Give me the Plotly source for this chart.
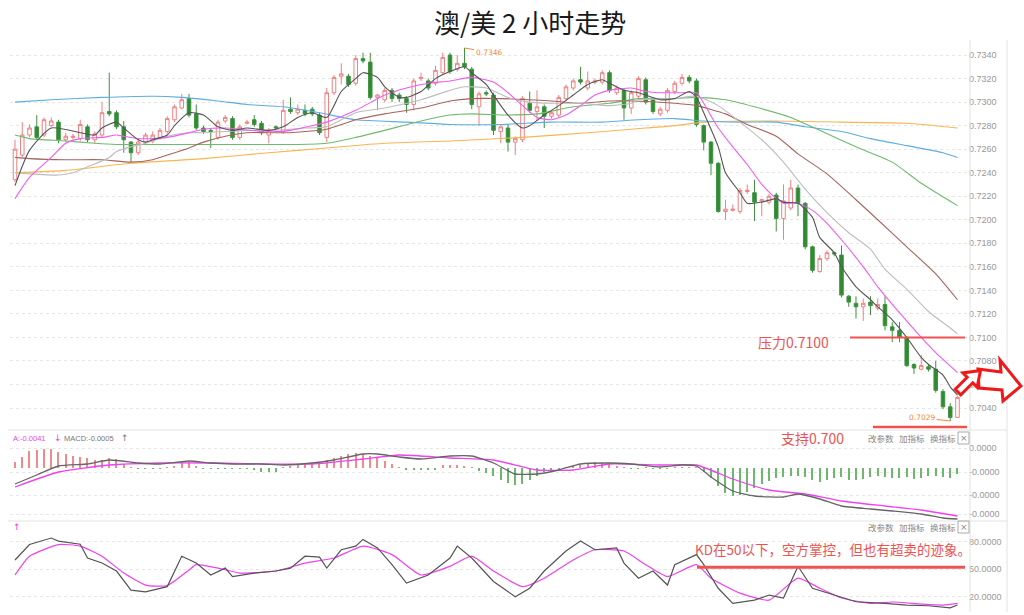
import plotly.graph_objects as go

# ---------------- data (AUD/USD, 2-hour candles) ----------------
opens = [.7234,.7255,.7272,.7279,.7272,.7280,.7283,.7268,.7270,.7269,
 .7279,.7268,.7272,.7292,.7291,.7279,.7266,.7257,.7266,.7267,
 .7270,.7275,.7285,.7295,.7303,.7290,.7278,.7276,.7270,.7284,
 .7286,.7270,.7282,.7285,.7282,.7272,.7279,.7275,.7294,.7291,
 .7293,.7294,.7289,.7270,.7308,.7322,.7322,.7316,.7337,.7334,
 .7304,.7302,.7310,.7306,.7303,.7298,.7320,.7318,.7316,.7325,
 .7340,.7328,.7333,.7328,.7296,.7308,.7306,.7275,.7278,.7266,
 .7268,.7299,.7292,.7296,.7288,.7289,.7303,.7312,.7319,.7312,
 .7317,.7317,.7325,.7308,.7310,.7295,.7305,.7319,.7302,.7290,
 .7293,.7309,.7316,.7321,.7318,.7280,.7266,.7248,.7207,.7208,
 .7207,.7224,.7223,.7216,.7215,.7221,.7201,.7210,.7227,.7214,
 .7177,.7156,.7167,.7172,.7170,.7135,.7129,.7126,.7130,.7125,
 .7128,.7109,.7106,.7100,.7077,.7073,.7075,.7073,.7054,.7041,
 .7032]
closes = [.7260,.7272,.7278,.7270,.7285,.7284,.7268,.7271,.7271,.7281,
 .7268,.7273,.7291,.7290,.7279,.7268,.7257,.7266,.7272,.7272,
 .7276,.7286,.7296,.7302,.7289,.7278,.7275,.7275,.7283,.7287,
 .7270,.7279,.7283,.7281,.7274,.7276,.7278,.7293,.7292,.7294,
 .7290,.7290,.7274,.7308,.7321,.7324,.7315,.7337,.7335,.7304,
 .7306,.7310,.7303,.7303,.7298,.7318,.7321,.7312,.7327,.7338,
 .7326,.7333,.7330,.7298,.7307,.7307,.7276,.7279,.7266,.7269,
 .7303,.7293,.7296,.7288,.7291,.7304,.7313,.7318,.7317,.7318,
 .7318,.7325,.7310,.7312,.7295,.7308,.7320,.7300,.7292,.7294,
 .7310,.7316,.7321,.7318,.7281,.7266,.7248,.7207,.7209,.7209,
 .7225,.7225,.7215,.7217,.7220,.7201,.7216,.7227,.7214,.7177,
 .7157,.7167,.7172,.7171,.7136,.7130,.7126,.7129,.7127,.7128,
 .7110,.7106,.7100,.7076,.7074,.7076,.7073,.7055,.7041,.7032,
 .7049]
highs = [.7268,.7283,.7281,.7289,.7287,.7287,.7285,.7274,.7273,.7285,
 .7281,.7275,.7300,.7325,.7293,.7284,.7267,.7268,.7274,.7275,
 .7278,.7288,.7298,.7307,.7307,.7298,.7280,.7278,.7285,.7289,
 .7288,.7281,.7285,.7289,.7284,.7278,.7280,.7302,.7304,.7298,
 .7298,.7296,.7291,.7312,.7323,.7333,.7324,.7340,.7342,.7342,
 .7307,.7312,.7312,.7308,.7305,.7320,.7325,.7320,.7331,.7342,
 .7342,.7340,.7346,.7330,.7309,.7310,.7308,.7281,.7281,.7271,
 .7305,.7309,.7310,.7298,.7293,.7306,.7315,.7320,.7330,.7326,
 .7320,.7327,.7327,.7314,.7312,.7310,.7322,.7321,.7304,.7296,
 .7312,.7318,.7324,.7323,.7320,.7281,.7267,.7249,.7217,.7213,
 .7227,.7230,.7234,.7218,.7222,.7223,.7230,.7234,.7230,.7215,
 .7178,.7170,.7174,.7173,.7178,.7136,.7135,.7133,.7135,.7133,
 .7135,.7113,.7113,.7101,.7078,.7085,.7077,.7080,.7056,.7044,
 .7050]
lows = [.7232,.7253,.7270,.7268,.7270,.7279,.7265,.7266,.7268,.7267,
 .7266,.7265,.7270,.7288,.7277,.7257,.7249,.7255,.7264,.7265,
 .7268,.7273,.7283,.7294,.7287,.7276,.7273,.7261,.7268,.7282,
 .7268,.7268,.7281,.7279,.7272,.7265,.7276,.7273,.7290,.7289,
 .7288,.7288,.7272,.7266,.7306,.7315,.7313,.7314,.7333,.7302,
 .7293,.7300,.7300,.7300,.7291,.7293,.7318,.7310,.7314,.7323,
 .7324,.7326,.7328,.7294,.7280,.7305,.7272,.7265,.7258,.7255,
 .7266,.7291,.7284,.7278,.7286,.7287,.7301,.7310,.7315,.7310,
 .7315,.7315,.7308,.7306,.7285,.7290,.7303,.7298,.7290,.7288,
 .7291,.7307,.7314,.7316,.7279,.7259,.7238,.7206,.7200,.7207,
 .7205,.7222,.7199,.7203,.7213,.7190,.7183,.7208,.7203,.7175,
 .7155,.7155,.7165,.7169,.7134,.7126,.7116,.7114,.7119,.7123,
 .7106,.7096,.7096,.7075,.7069,.7072,.7071,.7053,.7039,.7029,
 .7032]

# moving averages read at sample candles (candle index, price)
ma5_i = [0,2,5,9,11,12,14,15,17,18,19,21,22,24,26,28,30,32,35,37,39,41,43,45,47,48,50,51,53,54,56,58,60,62,63,65,66,68,70,71,73,75,77,79,81,82,84,86,89,91,93,94,95,97,98,100,101,103,105,106,108,110,111,113,114,116,118,119,121,123,125,126,128,129,130]
ma5_v = [.7229,.7259,.7278,.7274,.7272,.7278,.7283,.7278,.7268,.7266,.7268,.7272,.7280,.7291,.7289,.7279,.7276,.7278,.7276,.7279,.7287,.7291,.7287,.7309,.7320,.7325,.7321,.7313,.7304,.7304,.7309,.7320,.7326,.7330,.7325,.7315,.7306,.7289,.7278,.7280,.7289,.7297,.7306,.7315,.7319,.7316,.7310,.7308,.7302,.7303,.7309,.7304,.7291,.7262,.7240,.7223,.7214,.7215,.7218,.7215,.7214,.7202,.7185,.7172,.7160,.7143,.7132,.7126,.7115,.7100,.7083,.7077,.7068,.7058,.7051]
ma10_i = [0,2,5,7,9,12,14,15,17,19,21,24,26,29,31,34,36,38,41,43,47,51,54,57,60,63,66,68,70,72,74,76,78,80,82,85,87,89,92,94,95,97,99,101,103,105,106,108,110,112,114,117,119,122,125,127,130]
ma10_v = [.7218,.7236,.7253,.7265,.7269,.7270,.7272,.7271,.7269,.7269,.7270,.7274,.7277,.7278,.7277,.7275,.7275,.7276,.7280,.7283,.7293,.7306,.7312,.7316,.7318,.7321,.7317,.7308,.7297,.7287,.7285,.7289,.7297,.7306,.7310,.7312,.7309,.7308,.7308,.7308,.7299,.7278,.7262,.7247,.7230,.7218,.7214,.7214,.7208,.7197,.7183,.7160,.7143,.7121,.7100,.7087,.7070]
ma20_i = [0,2,6,8,10,13,14,16,18,21,24,26,29,32,35,38,40,43,47,51,56,60,62,65,68,71,74,78,82,85,86,91,94,97,100,103,106,109,112,115,118,120,123,126,129,130]
ma20_v = [.7240,.7239,.7238,.7240,.7245,.7253,.7258,.7262,.7265,.7271,.7274,.7274,.7275,.7276,.7276,.7277,.7278,.7279,.7291,.7295,.7302,.7310,.7313,.7312,.7304,.7300,.7299,.7299,.7297,.7299,.7302,.7303,.7305,.7297,.7283,.7268,.7249,.7226,.7206,.7189,.7175,.7158,.7141,.7122,.7108,.7103]
ma30_i = [0,2,7,12,16,19,21,24,26,29,32,35,38,40,43,47,51,56,60,63,67,71,74,78,82,85,91,94,98,101,105,108,112,116,119,123,127,130]
ma30_v = [.7253,.7252,.7251,.7251,.7249,.7251,.7255,.7261,.7266,.7271,.7274,.7274,.7274,.7275,.7277,.7285,.7290,.7295,.7301,.7303,.7303,.7302,.7301,.7299,.7301,.7301,.7299,.7297,.7290,.7281,.7271,.7256,.7239,.7217,.7200,.7177,.7154,.7132]
ma60_i = [0,2,7,11,14,18,22,26,30,35,39,43,47,51,56,60,63,68,72,77,82,86,91,94,98,102,107,111,116,121,125,130]
ma60_v = [.7272,.7269,.7267,.7265,.7264,.7264,.7264,.7264,.7264,.7264,.7264,.7265,.7270,.7276,.7284,.7289,.7290,.7289,.7290,.7296,.7299,.7303,.7303,.7304,.7302,.7296,.7287,.7276,.7262,.7249,.7231,.7212]
ma120_i = [0,5,12,19,23,28,32,37,42,47,54,60,67,74,81,86,91,95,100,105,109,114,118,123,128,130]
ma120_v = [.7300,.7302,.7304,.7305,.7304,.7301,.7298,.7296,.7291,.7285,.7283,.7281,.7281,.7283,.7283,.7285,.7286,.7284,.7283,.7283,.7279,.7275,.7269,.7263,.7257,.7253]
ma250_i = [0,7,16,26,35,43,51,60,70,79,87,91,95,105,114,123,130]
ma250_v = [.7240,.7242,.7248,.7252,.7257,.7261,.7265,.7267,.7270,.7274,.7278,.7280,.7283,.7284,.7283,.7282,.7278]

# MACD (values in units of 0.0001)
macd_hist = [4.8,8.8,13.6,14.4,15.2,15.2,12.8,11.2,9.6,8.8,
 8,6.4,6.4,8,7.2,3.2,0.8,-0.8,-0.8,-0.8,
 -0.8,0.8,1.6,4,4.8,1.6,-0.8,-0.8,-0.8,-0.8,
 -0.8,-0.8,-0.8,-1.6,-3.2,-3.2,-3.2,0.8,1.6,2.4,
 3.2,4,4.8,6.4,8,9.6,11.2,12,11.2,9.6,
 8,5.6,3.2,0.8,-1.6,-1.6,-1.6,-1.6,-1.6,2.4,
 2.4,2.4,1.6,0.8,-2.4,-4,-6.4,-9.6,-12,-13.6,
 -12.8,-9.6,-6.4,-3.2,-1.6,-0.8,0.8,1.6,2.4,4,
 4.8,4,3.2,1.6,0.8,-0.8,-0.8,0.8,-0.8,-0.8,
 -0.8,0.8,0.8,0.8,0.8,-3.2,-8,-14.4,-20,-22.4,
 -21.6,-19.2,-16,-12.8,-10.4,-8,-7.2,-6.4,-6.4,-7.2,
 -9.6,-11.2,-9.6,-8,-7.2,-9.6,-9.6,-8.8,-7.2,-6.4,
 -7.2,-8,-8,-7.2,-8.8,-8,-6.4,-6.4,-7.2,-8,
 -4.8]
dif_i = [0,3,6,10,13,17,20,24,27,30,34,37,41,44,48,50,53,56,60,63,66,69,72,75,78,82,85,89,92,94,96,99,102,106,108,111,114,118,121,125,128,130]
dif_v = [-12.8,-5.6,1.6,3.2,6.4,4,3.2,5.6,4,3.2,3.2,2.4,4,6.4,11.2,11.2,8.8,7.2,9.6,9.6,4,-4.8,-4.8,-1.6,3.2,4,3.2,0.8,2.4,1.6,-7.2,-18.4,-22.4,-23.2,-20.8,-24.8,-30.4,-32.8,-34.4,-36.8,-40,-40.8]
dea_i = [0,6,13,20,27,34,41,48,53,60,66,72,77,82,89,94,99,104,109,114,120,125,130]
dea_v = [-15.2,-3.2,2.4,4,4,3.2,3.2,7.2,10.4,8,6.4,-1.6,-1.6,3.2,2.4,2.4,-8.8,-17.6,-20.8,-26.4,-30.4,-33.6,-38.4]
macd_tick_vals = [16, -3.2, -21.6, -36.8]
macd_tick_text = ["0.0000", "-0.0000", "-0.0000", "-0.0000"]

# KD
k_i = [0,2,5,6,9,10,12,14,16,18,21,23,25,27,29,30,33,36,38,40,42,43,45,47,48,50,52,54,57,60,61,63,66,69,71,73,76,78,80,83,84,86,88,90,91,94,95,97,99,102,104,106,108,110,113,116,120,123,126,129,130]
k_v = [59.8,76.7,83.8,80.5,77,62,56.5,47.8,27,25,30.8,64,56.5,43.5,51,41.8,45.6,47.8,51,64,63,51,71,75,82.3,73,54.7,34.7,43.5,62,75,62,36.4,19.8,29,47.8,69.6,80.5,71,73,56.5,40,47.8,32.5,54.7,65.7,54.7,29,12.5,16,21.6,18.4,53,29,21.6,14.3,12.5,10.7,9.9,7.7,10.7]
d_i = [0,2,6,9,12,15,18,21,24,25,28,31,36,40,44,48,52,56,60,63,66,70,73,77,80,84,87,90,94,96,100,104,108,111,114,118,121,125,128,130]
d_v = [43.5,64,76.7,75,64,45.6,32.5,31.9,49,54.7,51,45.6,47.8,56.5,62,75,65.7,43.5,53,64,47.8,30.8,40,59.8,71,69.6,54.7,41.8,54.7,40,23.7,16,40,29,18.4,12.5,14,11.8,10.7,12.5]
kd_tick_vals = [80, 50, 20]
kd_tick_text = ["80.0000", "50.0000", "20.0000"]

price_ticks = [round(0.7040 + 0.0020 * k, 4) for k in range(16)]
price_tick_text = ["%.4f" % v for v in price_ticks]

title_text = "澳/美 2 小时走势"
resist_text = "压力0.7100"
support_text = "支持0.700"
kd_text = "KD在50以下，空方掌控，但也有超卖的迹象。"
high_label = "0.7346"
low_label = "0.7029"

# ---------------- figure ----------------
W, H = 1024, 615
def px(x):
    return x / W
def py(y):
    return 1 - y / H

RED = "#EF5350"
CJK = "Noto Sans CJK SC"
idx = list(range(len(opens)))

fig = go.Figure()
fig.add_trace(go.Candlestick(
    x=idx, open=opens, high=highs, low=lows, close=closes,
    xaxis="x", yaxis="y", whiskerwidth=0,
    increasing=dict(line=dict(color="#F08080", width=1), fillcolor="#FFFFFF"),
    decreasing=dict(line=dict(color="#3F9240", width=1), fillcolor="#2E8B30"),
    showlegend=False, hoverinfo="skip"))

ma_specs = [
    (ma250_i, ma250_v, "#F8B552"),
    (ma120_i, ma120_v, "#5DADE2"),
    (ma60_i, ma60_v, "#6DBB6D"),
    (ma30_i, ma30_v, "#A8645C"),
    (ma20_i, ma20_v, "#BDBDBD"),
    (ma10_i, ma10_v, "#F25CF2"),
    (ma5_i, ma5_v, "#555555"),
]
for xs, ys, col in ma_specs:
    fig.add_trace(go.Scatter(x=xs, y=ys, mode="lines", xaxis="x", yaxis="y",
                             line=dict(color=col, width=1.1, shape="spline", smoothing=0.6),
                             showlegend=False, hoverinfo="skip"))

fig.add_trace(go.Bar(x=idx, y=macd_hist, xaxis="x2", yaxis="y2", width=0.2,
                     marker=dict(color=["#F28A8A" if v > 0 else "#6CB86C" for v in macd_hist],
                                 line=dict(width=0)),
                     showlegend=False, hoverinfo="skip"))
fig.add_trace(go.Scatter(x=dea_i, y=dea_v, mode="lines", xaxis="x2", yaxis="y2",
                         line=dict(color="#F040F0", width=1.3, shape="spline", smoothing=0.5),
                         showlegend=False, hoverinfo="skip"))
fig.add_trace(go.Scatter(x=dif_i, y=dif_v, mode="lines", xaxis="x2", yaxis="y2",
                         line=dict(color="#666666", width=1.3, shape="spline", smoothing=0.5),
                         showlegend=False, hoverinfo="skip"))

fig.add_trace(go.Scatter(x=d_i, y=d_v, mode="lines", xaxis="x3", yaxis="y3",
                         line=dict(color="#F040F0", width=1.2, shape="spline", smoothing=0.5),
                         showlegend=False, hoverinfo="skip"))
fig.add_trace(go.Scatter(x=k_i, y=k_v, mode="lines", xaxis="x3", yaxis="y3",
                         line=dict(color="#555555", width=1.2),
                         showlegend=False, hoverinfo="skip"))

n = len(opens)
xr = [-0.69, 131.45]
xdom = [px(10), px(968)]
axis_common = dict(domain=xdom, range=xr, visible=False, fixedrange=True)
tickfont = dict(family="Liberation Sans", size=9, color="#999999")
ycommon = dict(side="right", showgrid=True, gridcolor="#E6E6E6", griddash="dot",
               zeroline=False, showline=False, ticks="", tickfont=tickfont,
               fixedrange=True, automargin=False)

fig.update_layout(
    width=W, height=H,
    margin=dict(l=0, r=0, t=0, b=0),
    paper_bgcolor="white", plot_bgcolor="white",
    showlegend=False, bargap=0,
    xaxis=dict(**axis_common, anchor="y", rangeslider=dict(visible=False)),
    xaxis2=dict(**axis_common, anchor="y2"),
    xaxis3=dict(**axis_common, anchor="y3"),
    yaxis=dict(**ycommon, domain=[py(430), py(40)], range=[0.70213, 0.73528], anchor="x",
               tickvals=price_ticks, ticktext=price_tick_text),
    yaxis2=dict(**ycommon, domain=[py(521), py(433)], range=[-42.4, 28], anchor="x2",
                tickvals=macd_tick_vals, ticktext=macd_tick_text),
    yaxis3=dict(**ycommon, domain=[py(612), py(523)], range=[3.1, 100.2], anchor="x3",
                tickvals=kd_tick_vals, ticktext=kd_tick_text),
)

shapes = []
border = dict(color="#E2E2E2", width=1)
for xv in (970, 1007):
    shapes.append(dict(type="line", xref="paper", yref="paper", x0=px(xv), x1=px(xv),
                       y0=py(40), y1=py(612), line=border))
for yv in (430, 521):
    shapes.append(dict(type="line", xref="paper", yref="paper", x0=px(8), x1=px(1007),
                       y0=py(yv), y1=py(yv), line=border))
# resistance line at 0.7100
shapes.append(dict(type="line", xref="paper", yref="y", x0=px(850), x1=px(965),
                   y0=0.7100, y1=0.7100, line=dict(color=RED, width=2)))
# support marker line
shapes.append(dict(type="line", xref="paper", yref="paper", x0=px(873), x1=px(967),
                   y0=py(427), y1=py(427), line=dict(color=RED, width=2.5)))
# KD 50 line
shapes.append(dict(type="line", xref="paper", yref="y3", x0=px(697), x1=px(965),
                   y0=52, y1=52, line=dict(color=RED, width=3)))
# close boxes
for yc in (438, 527):
    shapes.append(dict(type="rect", xref="paper", yref="paper", x0=px(958), x1=px(969),
                       y0=py(yc + 6), y1=py(yc - 6), line=dict(color="#AAAAAA", width=1)))

def path(pts):
    return "M " + " L ".join("%.5f,%.5f" % (px(a), py(b)) for a, b in pts) + " Z"

arrow_h = [(978, 369), (1001, 372), (1000, 360), (1021, 386), (1003, 401), (1002, 390), (979, 388)]
arrow_d = [(955.2, 389.2), (967.2, 377.2), (962.9, 372.9), (980.5, 370.5), (977.1, 387.1), (972.8, 382.8), (960.8, 394.8)]
for pts in (arrow_h, arrow_d):
    shapes.append(dict(type="path", xref="paper", yref="paper", path=path(pts),
                       fillcolor="white", line=dict(color="#F01818", width=3)))
fig.update_layout(shapes=shapes)

ann = []
def txt(x, y, t, size, color, family=CJK, anchor="left"):
    ann.append(dict(xref="paper", yref="paper", x=px(x), y=py(y), text=t, showarrow=False,
                    xanchor=anchor, yanchor="middle",
                    font=dict(family=family, size=size, color=color)))

txt(530, 22, title_text, 26, "#1A1A1A", anchor="center")
txt(756, 342, resist_text, 14, RED)
txt(779, 438, support_text, 14, RED)
txt(693, 549, kd_text, 13.5, RED)
for yv in (438, 527):
    txt(866, yv, "改参数", 8.5, "#888888")
    txt(897, yv, "加指标", 8.5, "#888888")
    txt(928, yv, "换指标", 8.5, "#888888")
    txt(963.5, yv, "×", 9, "#888888", family="DejaVu Sans", anchor="center")
txt(11, 438, "A:-0.0041", 7.5, "#F040F0", family="Liberation Sans")
txt(52, 438, "↓", 9, "#F040F0", family="DejaVu Sans")
txt(62, 438, "MACD:-0.0005", 7.5, "#777777", family="Liberation Sans")
txt(119, 438, "↑", 9, "#777777", family="DejaVu Sans")
txt(11, 527, "↑", 9, "#F040F0", family="DejaVu Sans")

hi_i = max(range(n), key=lambda i: highs[i])
lo_i = min(range(n), key=lambda i: lows[i])
ann.append(dict(xref="x", yref="y", x=hi_i, y=highs[hi_i], text=high_label, showarrow=True,
                ax=24, ay=4, arrowhead=0, arrowwidth=1, arrowcolor="#F08A3A",
                font=dict(family="DejaVu Sans", size=7.5, color="#F08A3A")))
ann.append(dict(xref="x", yref="y", x=lo_i, y=lows[lo_i], text=low_label, showarrow=True,
                ax=-28, ay=-3, arrowhead=0, arrowwidth=1, arrowcolor="#F08A3A",
                font=dict(family="DejaVu Sans", size=7.5, color="#F08A3A")))
fig.update_layout(annotations=ann)

fig.write_html("out.html", config={"displayModeBar": False},
               post_script="document.body.style.margin='0px';document.body.style.overflow='hidden';")
